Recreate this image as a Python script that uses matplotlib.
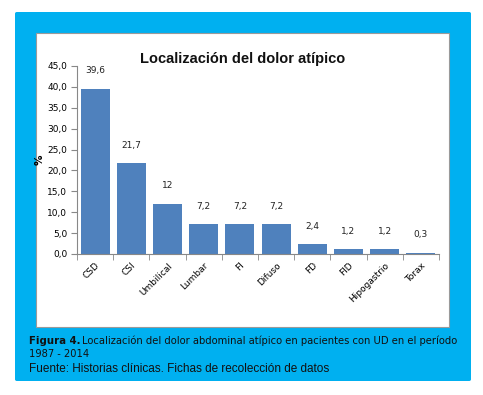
import numpy as np
import matplotlib.pyplot as plt
from matplotlib.patches import Rectangle, FancyBboxPatch

categories = ["CSD", "CSI", "Umbilical", "Lumbar", "FI", "Difuso", "FD", "FID", "Hipogastrio", "Torax"]
values = [39.6, 21.7, 12.0, 7.2, 7.2, 7.2, 2.4, 1.2, 1.2, 0.3]
value_labels = ["39,6", "21,7", "12", "7,2", "7,2", "7,2", "2,4", "1,2", "1,2", "0,3"]
yticks = np.arange(0, 46, 5)

W, H = 483, 395
fig = plt.figure(figsize=(W / 100, H / 100), dpi=100)

# cyan frame and white chart panel (pixel coords -> figure fraction)
def box(x0, y0, x1, y1):
    return x0 / W, 1 - y1 / H, (x1 - x0) / W, (y1 - y0) / H

bx, by, bw, bh = box(15, 12, 471, 381)
fig.patches.append(FancyBboxPatch((bx, by), bw, bh, boxstyle="round,pad=0,rounding_size=0.004",
                                  transform=fig.transFigure, facecolor="#00B0F0", edgecolor="none", zorder=0))
px, py, pw, ph = box(36, 33, 449, 327)
fig.patches.append(Rectangle((px, py), pw, ph, transform=fig.transFigure,
                             facecolor="white", edgecolor="#9a9a9a", linewidth=0.8, zorder=1))

ax = fig.add_axes(box(77, 66, 439, 254))
ax.set_zorder(2)
ax.patch.set_alpha(0)
x = np.arange(len(categories))
ax.bar(x, values, width=0.8, color="#4F81BD")
for xi, v, lab in zip(x, values, value_labels):
    ax.text(xi, v + 3.2, lab, ha="center", va="bottom", fontsize=6.5, color="#222222")

ax.set_xlim(-0.5, len(categories) - 0.5)
ax.set_ylim(0, 45)
ax.set_yticks(yticks)
ax.set_yticklabels([f"{t:.1f}".replace(".", ",") for t in yticks], fontsize=6.5)
ax.set_xticks(x)
ax.set_xticklabels(categories, rotation=45, ha="right", rotation_mode="anchor", fontsize=6.5)
ax.set_xticks(np.arange(-0.5, len(categories), 1), minor=True)
ax.tick_params(axis="x", which="major", length=0, pad=5)
ax.tick_params(axis="x", which="minor", length=4, color="#888888")
ax.tick_params(axis="y", length=4, color="#888888", pad=3)
for s in ["top", "right"]:
    ax.spines[s].set_visible(False)
ax.spines["left"].set_color("#888888")
ax.spines["bottom"].set_color("#888888")
ax.set_ylabel("%", fontsize=7.5, fontweight="bold", labelpad=2)

fig.text(243 / W, 1 - 59 / H, "Localización del dolor atípico", ha="center", va="center",
         fontsize=10.5, fontweight="bold", family="Liberation Sans", color="#111111", zorder=3)

fig.text(29 / W, 1 - 341 / H, "Figura 4.", ha="left", va="center", fontsize=7.3, fontweight="bold", color="#111111")
fig.text(82 / W, 1 - 341 / H, "Localización del dolor abdominal atípico en pacientes con UD en el período",
         ha="left", va="center", fontsize=7.2, color="#111111")
fig.text(29 / W, 1 - 354 / H, "1987 - 2014", ha="left", va="center", fontsize=7.1, color="#111111")
fig.text(29 / W, 1 - 369 / H, "Fuente: Historias clínicas. Fichas de recolección de datos",
         ha="left", va="center", fontsize=8.5, family="Liberation Sans", color="#111111")

fig.savefig("out.png", dpi=100)
